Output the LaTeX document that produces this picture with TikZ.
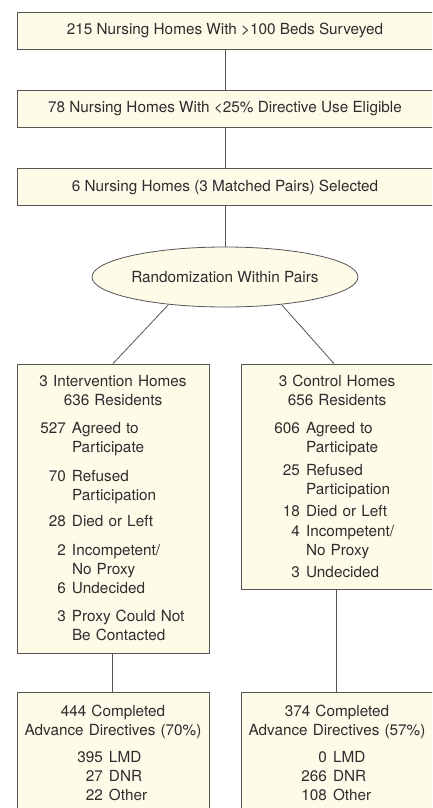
\documentclass[tikz,border=0pt]{standalone}
\usepackage{fontspec}
\setmainfont{TeX Gyre Heros}
\usetikzlibrary{shapes.geometric}

\definecolor{boxfill}{RGB}{254,251,232}
\definecolor{boxline}{RGB}{85,85,85}
\definecolor{boxtext}{RGB}{45,45,45}

\newcommand{\hd}[1]{\makebox[\linewidth]{#1}}
\newcommand{\entry}[2]{\makebox[#1][r]{#2}\hspace{6pt}}

\begin{document}
\begin{tikzpicture}[x=1pt,y=-1pt,
  every node/.style={text=boxtext,font=\fontsize{15.3}{19}\selectfont},
  stage/.style={draw=boxline,fill=boxfill,line width=0.8pt,minimum width=416pt,minimum height=37pt,inner sep=0pt},
  arm/.style={draw=boxline,fill=boxfill,line width=0.8pt,text width=192pt,inner xsep=0pt,inner ysep=0pt,align=left},
  link/.style={draw=boxline,line width=0.8pt}]

\useasboundingbox (0,0) rectangle (432,808);
\clip (0,0) rectangle (432,808);

\node[stage] (surveyed) at (225,30.5) {215 Nursing Homes With >100 Beds Surveyed};
\node[stage] (eligible) at (225,108.5) {78 Nursing Homes With <25\% Directive Use Eligible};
\node[stage] (selected) at (225,187) {6 Nursing Homes (3 Matched Pairs) Selected};
\node[draw=boxline,fill=boxfill,line width=0.8pt,ellipse,minimum width=266pt,minimum height=60pt,inner sep=0pt] (random) at (225,277) {Randomization Within Pairs};

\node[arm,minimum height=289pt] (interv) at (113,508.5) {%
\hd{3 Intervention Homes}\\
\hd{636 Residents}\\[9pt]
\entry{49pt}{527}Agreed to\\
\entry{49pt}{}Participate\\[10pt]
\entry{49pt}{70}Refused\\
\entry{49pt}{}Participation\\[7pt]
\entry{49pt}{28}Died or Left\\[10pt]
\entry{49pt}{2}Incompetent/\\
\entry{49pt}{}No Proxy\\
\entry{49pt}{6}Undecided\\[9pt]
\entry{49pt}{3}Proxy Could Not\\
\entry{49pt}{}Be Contacted};

\node[arm,minimum height=225pt] (control) at (337,476.5) {%
\hd{3 Control Homes}\\
\hd{656 Residents}\\[9pt]
\entry{59pt}{606}Agreed to\\
\entry{59pt}{}Participate\\[4pt]
\entry{59pt}{25}Refused\\
\entry{59pt}{}Participation\\[3pt]
\entry{59pt}{18}Died or Left\\[1pt]
\entry{59pt}{4}Incompetent/\\
\entry{59pt}{}No Proxy\\[3pt]
\entry{59pt}{3}Undecided};

\node[arm,minimum height=121pt] (done1) at (113,752.5) {%
\hd{444 Completed}\\
\hd{Advance Directives (70\%)}\\[8pt]
\entry{86pt}{395}LMD\\
\entry{86pt}{27}DNR\\
\entry{86pt}{22}Other};

\node[arm,minimum height=121pt] (done2) at (337,752.5) {%
\hd{374 Completed}\\
\hd{Advance Directives (57\%)}\\[8pt]
\entry{86pt}{0}LMD\\
\entry{86pt}{266}DNR\\
\entry{86pt}{108}Other};

% connectors
\draw[link] (surveyed) -- (eligible);
\draw[link] (eligible) -- (selected);
\draw[link] (selected) -- (random);
\draw[link] (random.206) -- (interv.north);
\draw[link] (random.334) -- ([xshift=-3pt]control.north);
\draw[link] ([xshift=-1pt]interv.south) -- ([xshift=-1pt]done1.north);
\draw[link] ([xshift=-1pt]control.south) -- ([xshift=-1pt]done2.north);

\end{tikzpicture}
\end{document}
